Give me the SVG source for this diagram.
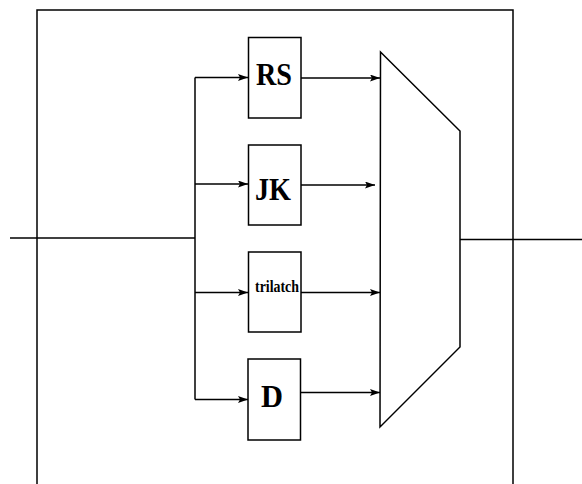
<svg xmlns="http://www.w3.org/2000/svg" width="582" height="484" viewBox="0 0 582 484">
  <style>
    .ln { fill: none; stroke: #000; stroke-width: 1.5; }
    .box { fill: #fff; stroke: #000; stroke-width: 1.5; }
    .big { font-family: "Liberation Serif", "Times New Roman", serif; font-weight: bold; font-size: 32px; text-anchor: middle; fill: #000; }
    .small { font-family: "Liberation Serif", "Times New Roman", serif; font-weight: bold; font-size: 16px; text-anchor: middle; fill: #000; }
  </style>
  <defs>
    <marker id="arr" markerUnits="userSpaceOnUse" markerWidth="11" markerHeight="8" refX="10" refY="3.5" orient="auto">
      <path d="M0,0 L10,3.5 L0,7 L2,3.5 Z" fill="#000"/>
    </marker>
  </defs>
  <rect width="582" height="484" fill="#fff"/>

  <!-- enclosing frame, open at the bottom -->
  <path id="frame" class="ln" d="M37,484 V10 H513 V484"/>

  <!-- connectors -->
  <g id="connectors" class="ln">
    <path d="M10,238 H195"/>
    <path d="M195,77.5 V399.5"/>
    <path d="M195,77.5 H248" marker-end="url(#arr)"/>
    <path d="M195,184 H248" marker-end="url(#arr)"/>
    <path d="M195,292.5 H248" marker-end="url(#arr)"/>
    <path d="M195,399.5 H248" marker-end="url(#arr)"/>
    <path d="M301,78 H380" marker-end="url(#arr)"/>
    <path d="M301,185 H375" marker-end="url(#arr)"/>
    <path d="M301,292.5 H380" marker-end="url(#arr)"/>
    <path d="M301,392.5 H380" marker-end="url(#arr)"/>
    <path d="M460,239.5 H582"/>
  </g>

  <g id="rs">
    <rect class="box" x="248.5" y="37.5" width="52.5" height="80.5"/>
    <text class="big" x="274" y="84.5" textLength="36" lengthAdjust="spacingAndGlyphs">RS</text>
  </g>
  <g id="jk">
    <rect class="box" x="248.5" y="145" width="52.5" height="80"/>
    <text class="big" x="273" y="199.5" textLength="36" lengthAdjust="spacingAndGlyphs">JK</text>
  </g>
  <g id="trilatch">
    <rect class="box" x="248.5" y="252" width="52.5" height="80"/>
    <text class="small" x="277" y="292" textLength="44" lengthAdjust="spacingAndGlyphs">trilatch</text>
  </g>
  <g id="d">
    <rect class="box" x="248" y="359" width="52.5" height="81"/>
    <text class="big" x="272" y="407" textLength="22" lengthAdjust="spacingAndGlyphs">D</text>
  </g>
  <g id="mux">
    <polygon class="box" points="380.5,52 460,131 460,347 380,427"/>
  </g>
</svg>
